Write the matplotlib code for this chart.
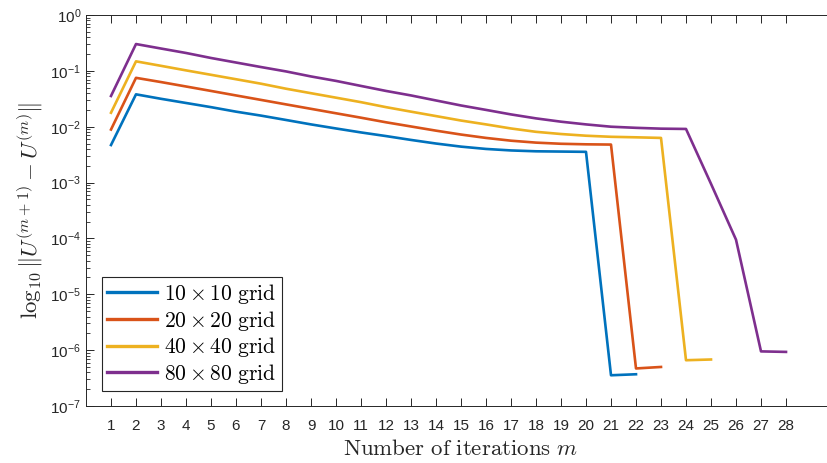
import numpy as np
import matplotlib
matplotlib.use("Agg")
import matplotlib.pyplot as plt
from matplotlib.ticker import LogLocator, FixedLocator, NullFormatter


# Veriler
m_10 = list(range(1, 23))
err_10 = [4.7e-3, 0.038, 0.0316, 0.0266, 0.0224, 0.0186, 0.0158, 0.0132,
          0.0110, 0.0093, 0.0079, 0.0068, 0.0058, 0.0050, 0.0044, 0.0040,
          0.00376, 0.00363, 0.00359, 0.00355, 3.55e-7, 3.7e-7]

m_20 = list(range(1, 24))
err_20 = [0.0089, 0.075, 0.063, 0.0525, 0.0437, 0.0363, 0.0302, 0.0251,
          0.0209, 0.0174, 0.0145, 0.0120, 0.0101, 0.0085, 0.00724, 0.0063,
          0.00562, 0.00519, 0.00495, 0.00484, 0.00479, 4.7e-7, 5.0e-7]

m_40 = list(range(1, 26))
err_40 = [0.0178, 0.148, 0.123, 0.102, 0.085, 0.0708, 0.0589, 0.0479,
          0.0398, 0.0331, 0.0275, 0.0224, 0.0186, 0.0155, 0.0129, 0.0110,
          0.0093, 0.0081, 0.0074, 0.0069, 0.0066, 0.00646, 0.0063,
          6.6e-7, 6.8e-7]

m_80 = list(range(1, 29))
err_80 = [0.0355, 0.302, 0.251, 0.209, 0.170, 0.141, 0.117, 0.0977,
          0.0794, 0.0661, 0.0537, 0.0437, 0.0363, 0.0295, 0.024, 0.020,
          0.0166, 0.0141, 0.0123, 0.0110, 0.0100, 0.00955, 0.00923,
          0.00912, 9.5e-4, 9.5e-5, 9.5e-7, 9.3e-7]

labels = [r"$\mathrm{10\times10\ grid}$", r"$\mathrm{20\times20\ grid}$",
          r"$\mathrm{40\times40\ grid}$", r"$\mathrm{80\times80\ grid}$"]
x_ticks = list(range(1, 29))
y_ticks = [1e-7, 1e-6, 1e-5, 1e-4, 1e-3, 1e-2, 1e-1, 1e0]
y_tick_labels = [r"$10^{-7}$", r"$10^{-6}$", r"$10^{-5}$", r"$10^{-4}$",
                 r"$10^{-3}$", r"$10^{-2}$", r"$10^{-1}$", r"$10^{0}$"]

# MATLAB renkleri
colors = ["#0072BD", "#D95319", "#EDB120", "#7E2F8E"]

plt.rcParams["font.family"] = ["Liberation Sans", "DejaVu Sans"]
plt.rcParams["mathtext.fontset"] = "custom"
plt.rcParams["mathtext.rm"] = "Liberation Sans"
plt.rcParams["mathtext.it"] = "Liberation Sans:italic"

AX_COL = "#262626"

fig = plt.figure(figsize=(8.27, 4.63), dpi=100)
ax = fig.add_axes([86 / 827, 57 / 463, 750 / 827, 391 / 463])

series = [(m_10, err_10), (m_20, err_20), (m_40, err_40), (m_80, err_80)]
for (m, e), c, lab in zip(series, colors, labels):
    ax.plot(m, e, color=c, lw=1.9, label=lab)

ax.set_yscale("log")
ax.set_xlim(0, 30)
ax.set_ylim(1e-7, 1e0)

ax.xaxis.set_major_locator(FixedLocator(x_ticks))
ax.set_xticklabels([str(t) for t in x_ticks])
ax.set_yticks(y_ticks)
ax.set_yticklabels(y_tick_labels)
ax.yaxis.set_minor_locator(LogLocator(base=10, subs=np.arange(2, 10), numticks=20))
ax.yaxis.set_minor_formatter(NullFormatter())

ax.tick_params(axis="both", which="major", direction="in", length=5.5,
               width=0.7, colors=AX_COL, labelsize=11, top=True, right=True)
ax.tick_params(axis="y", which="minor", direction="in", length=3,
               width=0.6, colors=AX_COL, right=True)
ax.tick_params(axis="x", pad=9)
for sp in ax.spines.values():
    sp.set_color(AX_COL)
    sp.set_linewidth(0.7)

ax.set_xlabel(r"$\mathrm{Number\ of\ iterations}\ m$", fontsize=16.5,
              color=AX_COL, math_fontfamily="cm", labelpad=3)
ax.set_ylabel(r"$\log_{10}\|U^{(m+1)}-U^{(m)}\|$", fontsize=16.5,
              color=AX_COL, math_fontfamily="cm", labelpad=4)

leg = ax.legend(loc="lower left", bbox_to_anchor=(0.021, 0.038),
                borderaxespad=0, fancybox=False, framealpha=1,
                edgecolor=AX_COL, handlelength=2.3, handletextpad=0.35,
                borderpad=0.25, labelspacing=0.12,
                prop={"size": 15.5, "math_fontfamily": "cm"})
leg.get_frame().set_linewidth(0.8)
for t in leg.get_texts():
    t.set_math_fontfamily("cm")
for h in leg.get_lines():
    h.set_linewidth(2.4)

fig.savefig("out.png", dpi=100)
